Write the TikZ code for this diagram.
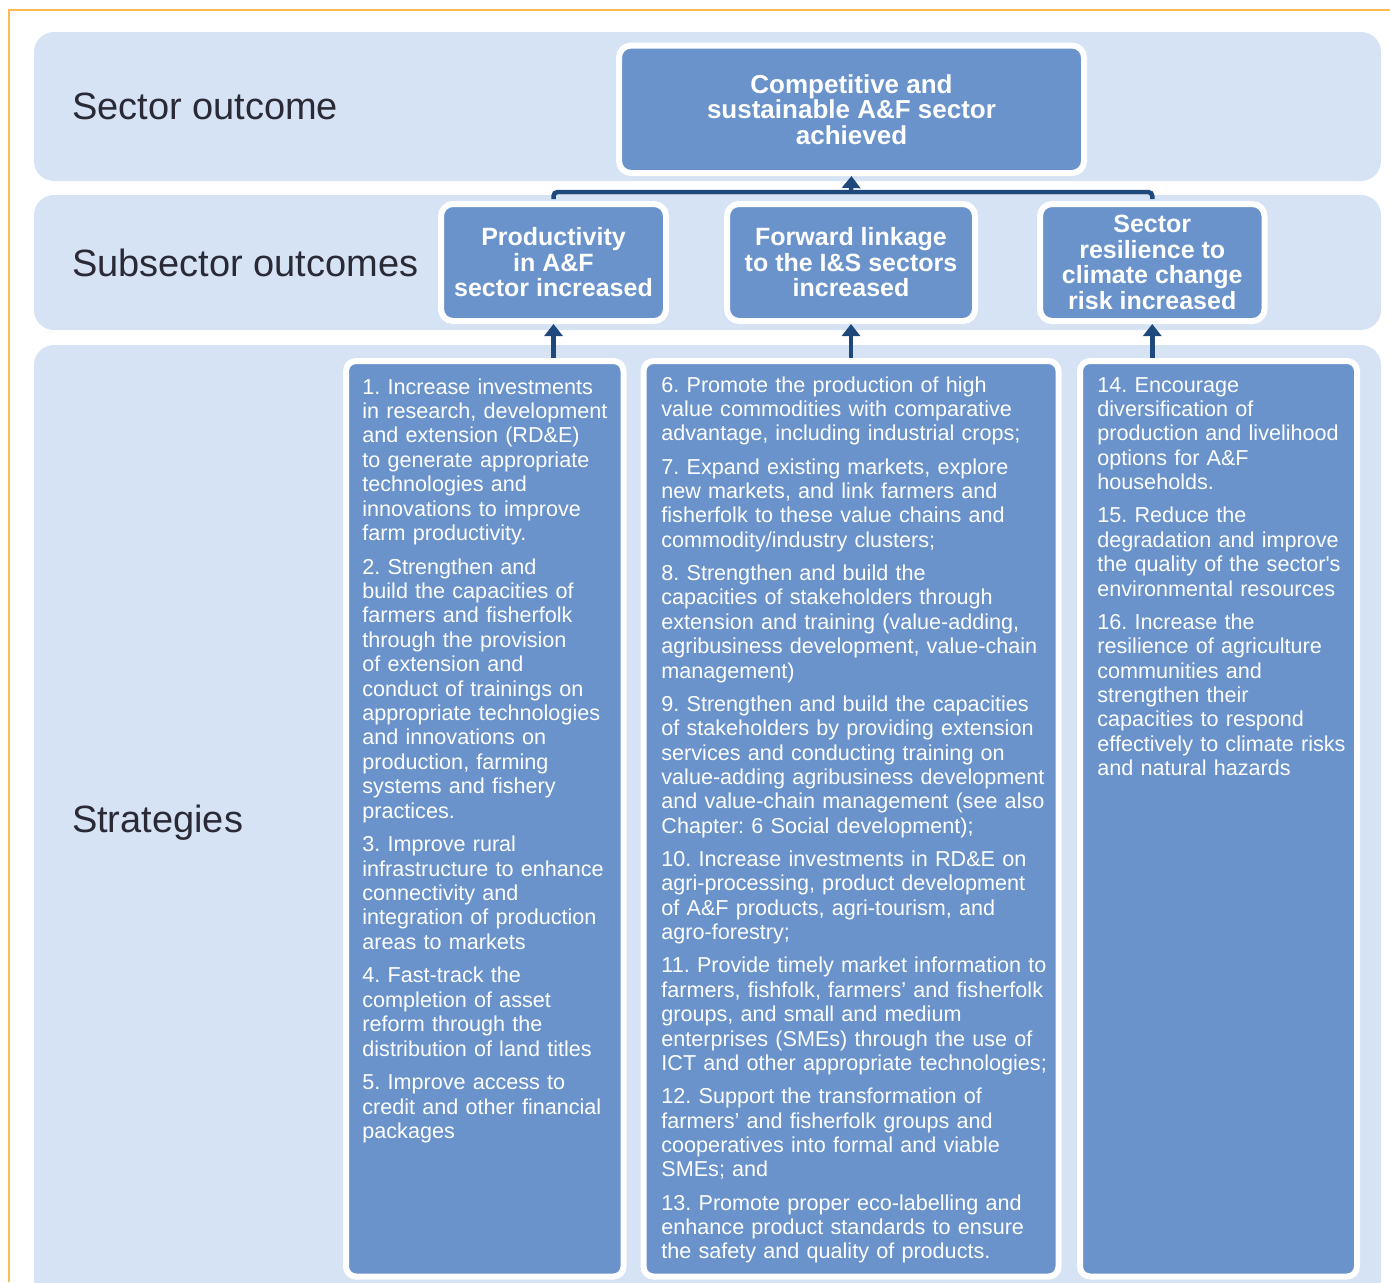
\documentclass[tikz,border=0pt]{standalone}
\usepackage{fontspec}
\setmainfont{Liberation Sans}
\usetikzlibrary{arrows.meta,positioning}
\definecolor{bandblue}{RGB}{213,227,244}
\definecolor{boxblue}{RGB}{106,147,203}
\definecolor{linkblue}{RGB}{31,73,125}
\definecolor{frameorange}{RGB}{255,186,82}
\definecolor{ink}{RGB}{42,42,54}
\frenchspacing

\begin{document}
\begin{tikzpicture}[x=0.5pt,y=-0.5pt,
    band/.style={fill=bandblue,rounded corners=10pt,minimum width=673.5pt,inner sep=0pt},
    lbl/.style={font=\fontsize{19}{22}\selectfont,text=ink,inner sep=0pt,anchor=west},
    outc/.style={draw=white,line width=3pt,fill=boxblue,rounded corners=6pt,text=white,
                 font=\bfseries\fontsize{12.5}{12.75}\selectfont,align=center,
                 minimum height=58.5pt,inner sep=2pt},
    stratbox/.style={draw=white,line width=3pt,fill=boxblue,rounded corners=5pt,
                 minimum height=457.75pt,inner sep=0pt},
    strattxt/.style={text=white,font=\fontsize{10.8}{12.2}\selectfont,align=left,
                 text width=#1,inner sep=0pt,anchor=base west},
    arr/.style={draw=linkblue,line width=2.25pt,-{Triangle[width=9pt,length=6pt]}},
    link/.style={draw=linkblue,line width=2.25pt,rounded corners=2pt,shorten <=1pt,shorten >=1pt}
  ]
  \useasboundingbox (0,0) rectangle (1390,1282);
  \clip (0,0) rectangle (1390,1282);
  \draw[frameorange,line width=1pt] (9,1282) -- (9,10) -- (1390,10);

  % rows
  \node[band,minimum height=74.5pt] (band1) at (707.5,106.5) {};
  \node[band,minimum height=67.5pt] (band2) at (707.5,262.5) {};
  \node[band,minimum height=477.5pt] (band3) at (707.5,822.5) {};
  \node[lbl,right=19pt of band1.west] (lsec) {Sector outcome};
  \node[lbl,right=19pt of band2.west] (lsub) {Subsector outcomes};
  \node[lbl,right=19pt of band3.west] (lstr) {Strategies};

  % outcomes
  \node[outc,minimum width=232.5pt,minimum height=63.75pt,font=\bfseries\fontsize{13}{12.75}\selectfont]
    (goal) at (851.5,109.25) {Competitive and\\sustainable A\&F sector\\achieved};
  \node[outc,minimum width=112.5pt] (sub1) at (553.5,262.5) {Productivity\\in A\&F\\sector increased};
  \node[outc,minimum width=124pt] (sub2) at (851,262.5) {Forward linkage\\to the I\&S sectors\\increased};
  \node[outc,minimum width=112.25pt] (sub3) at (1152.25,262.5) {Sector\\resilience to\\climate change\\risk increased};

  % strategies
  \node[stratbox,minimum width=138.75pt] (strat1) at (484.75,818.75) {};
  \node[stratbox,minimum width=207.5pt] (strat2) at (851,818.75) {};
  \node[stratbox,minimum width=138.5pt] (strat3) at (1218.5,818.75) {};

  \node[strattxt=140pt] (txt1) at (362,394) {1. Increase investments\\
    in research, development\\
    and extension (RD\&E)\\
    to generate appropriate\\
    technologies and\\
    innovations to improve\\
    farm productivity.\\[4.6pt]
    2. Strengthen and\\
    build the capacities of\\
    farmers and fisherfolk\\
    through the provision\\
    of extension and\\
    conduct of trainings on\\
    appropriate technologies\\
    and innovations on\\
    production, farming\\
    systems and fishery\\
    practices.\\[4.6pt]
    3. Improve rural\\
    infrastructure to enhance\\
    connectivity and\\
    integration of production\\
    areas to markets\\[4.6pt]
    4. Fast-track the\\
    completion of asset\\
    reform through the\\
    distribution of land titles\\[4.6pt]
    5. Improve access to\\
    credit and other financial\\
    packages};

  \node[strattxt=215pt] (txt2) at (661,392) {6. Promote the production of high\\
    value commodities with comparative\\
    advantage, including industrial crops;\\[4.4pt]
    7. Expand existing markets, explore\\
    new markets, and link farmers and\\
    fisherfolk to these value chains and\\
    commodity/industry clusters;\\[4.4pt]
    8. Strengthen and build the\\
    capacities of stakeholders through\\
    extension and training (value-adding,\\
    agribusiness development, value-chain\\
    management)\\[4.4pt]
    9. Strengthen and build the capacities\\
    of stakeholders by providing extension\\
    services and conducting training on\\
    value-adding agribusiness development\\
    and value-chain management (see also\\
    Chapter: 6 Social development);\\[4.4pt]
    10. Increase investments in RD\&E on\\
    agri-processing, product development\\
    of A\&F products, agri-tourism, and\\
    agro-forestry;\\[4.4pt]
    11. Provide timely market information to\\
    farmers, fishfolk, farmers’ and fisherfolk\\
    groups, and small and medium\\
    enterprises (SMEs) through the use of\\
    ICT and other appropriate technologies;\\[4.4pt]
    12. Support the transformation of\\
    farmers’ and fisherfolk groups and\\
    cooperatives into formal and viable\\
    SMEs; and\\[4.4pt]
    13. Promote proper eco-labelling and\\
    enhance product standards to ensure\\
    the safety and quality of products.};

  \node[strattxt=140pt] (txt3) at (1097,392) {14. Encourage\\
    diversification of\\
    production and livelihood\\
    options for A\&F\\
    households.\\[4.4pt]
    15. Reduce the\\
    degradation and improve\\
    the quality of the sector\textquotesingle s\\
    environmental resources\\[4.4pt]
    16. Increase the\\
    resilience of agriculture\\
    communities and\\
    strengthen their\\
    capacities to respond\\
    effectively to climate risks\\
    and natural hazards};

  % connectors
  \coordinate (joint) at (851,192);
  \draw[link] (sub1.north) -- (sub1.north |- joint) -- (sub3.north |- joint) -- (sub3.north);
  \draw[arr] (joint) -- (goal.south);
  \foreach \s/\t in {strat1/sub1,strat2/sub2,strat3/sub3}
    \draw[arr] (\t.south |- \s.north) -- (\t.south);
\end{tikzpicture}
\end{document}
